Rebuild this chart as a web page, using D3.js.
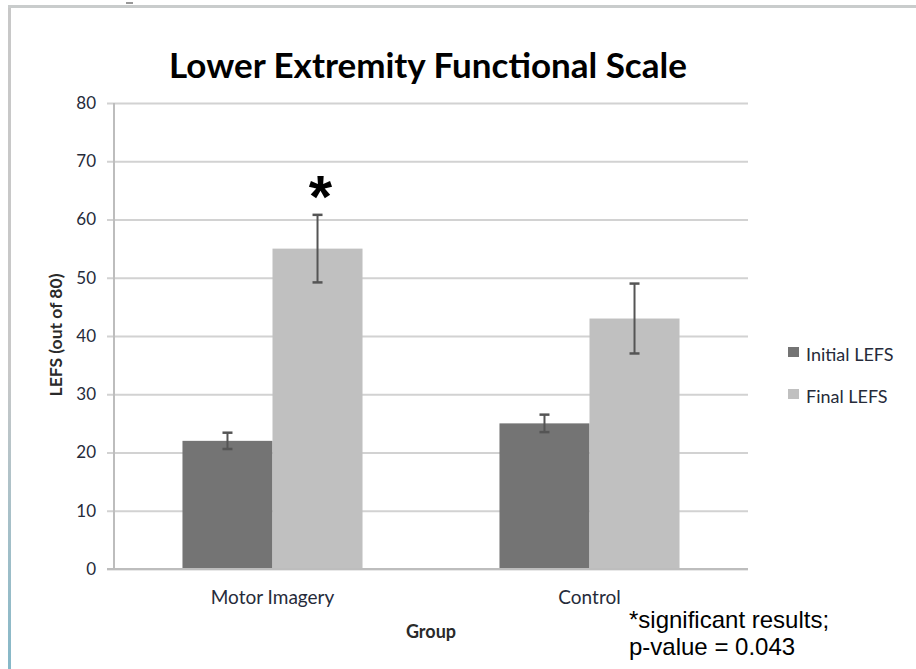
<!DOCTYPE html>
<html>
<head>
<meta charset="utf-8">
<script src="https://cdn.jsdelivr.net/npm/d3@7"></script>
<style>
  html, body { margin: 0; padding: 0; background: #fff; }
  svg { display: block; }
</style>
</head>
<body>
<svg id="chart" width="916" height="669"></svg>
<script>
// LEFS scores by group: mean and error (±) for each assessment
const groups = ["Motor Imagery", "Control"];
const seriesNames = ["Initial LEFS", "Final LEFS"];
const initialMeans = [22, 25];
const finalMeans = [55, 43];
const initialErrors = [1.4, 1.5];
const finalErrors = [5.8, 6];
const yTicks = [0, 10, 20, 30, 40, 50, 60, 70, 80];
const significantGroups = ["Motor Imagery"];

const colors = { "Initial LEFS": "#747474", "Final LEFS": "#c0c0c0" };
const labelFont = "Lato, 'Open Sans', sans-serif";
const labelColor = "#262b3a";

const svg = d3.select("#chart");
const W = 916, H = 669;

const rows = [];
groups.forEach((g, i) => {
  rows.push({ group: g, series: "Initial LEFS", value: initialMeans[i], err: initialErrors[i] });
  rows.push({ group: g, series: "Final LEFS", value: finalMeans[i], err: finalErrors[i] });
});

// Slide frame around the chart
const defs = svg.append("defs");
const grad = defs.append("linearGradient").attr("id", "frameGrad")
  .attr("x1", 0).attr("y1", 0).attr("x2", 0).attr("y2", 1);
grad.append("stop").attr("offset", "0%").attr("stop-color", "#c8c8c8");
grad.append("stop").attr("offset", "55%").attr("stop-color", "#c8c8c8");
grad.append("stop").attr("offset", "100%").attr("stop-color", "#86b8c8");
svg.append("rect").attr("x", 8).attr("y", 6).attr("width", 3).attr("height", H - 6)
  .attr("fill", "url(#frameGrad)");
svg.append("rect").attr("x", 8).attr("y", 5).attr("width", W - 8).attr("height", 3)
  .attr("fill", "#c9cccc");
svg.append("rect").attr("x", 126).attr("y", 2).attr("width", 7).attr("height", 2)
  .attr("fill", "#999");

const margin = { left: 114, right: 168, top: 103, bottom: 100 };
const plotW = W - margin.left - margin.right;
const plotH = H - margin.top - margin.bottom;

const g = svg.append("g").attr("transform", `translate(${margin.left},${margin.top})`);

const y = d3.scaleLinear().domain([0, 80]).range([plotH, 0]);
const x0 = d3.scaleBand().domain(groups).range([0, plotW])
  .paddingInner(0.432).paddingOuter(0.216);
const x1 = d3.scaleBand().domain(seriesNames).range([0, x0.bandwidth()]);

// Horizontal gridlines with short ticks left of the axis
const yAxis = d3.axisLeft(y).tickValues(yTicks).tickSize(-plotW).tickPadding(18).tickSizeOuter(0);
const ya = g.append("g").call(yAxis);
ya.select(".domain").remove();
ya.selectAll(".tick line").attr("stroke", "#d2d2d2").attr("stroke-width", 2.2).attr("x1", -7);
ya.selectAll(".tick text")
  .attr("fill", labelColor)
  .style("font-family", labelFont)
  .style("font-size", "17px");

// Bars
const gg = g.selectAll(".grp").data(groups).join("g")
  .attr("class", "grp")
  .attr("transform", d => `translate(${x0(d)},0)`);

gg.selectAll("rect").data(d => rows.filter(r => r.group === d)).join("rect")
  .attr("x", d => x1(d.series))
  .attr("y", d => y(d.value))
  .attr("width", x1.bandwidth())
  .attr("height", d => y(0) - y(d.value))
  .attr("fill", d => colors[d.series]);

// Error bars
const eb = gg.selectAll(".err").data(d => rows.filter(r => r.group === d)).join("g").attr("class", "err");
const cap = 5;
eb.append("line")
  .attr("x1", d => x1(d.series) + x1.bandwidth() / 2)
  .attr("x2", d => x1(d.series) + x1.bandwidth() / 2)
  .attr("y1", d => y(d.value + d.err))
  .attr("y2", d => y(d.value - d.err))
  .attr("stroke", "#555").attr("stroke-width", 2);
[1, -1].forEach(s => {
  eb.append("line")
    .attr("x1", d => x1(d.series) + x1.bandwidth() / 2 - cap)
    .attr("x2", d => x1(d.series) + x1.bandwidth() / 2 + cap)
    .attr("y1", d => y(d.value + s * d.err))
    .attr("y2", d => y(d.value + s * d.err))
    .attr("stroke", "#555").attr("stroke-width", 2.5);
});

// Significance marker above the final-score error bar
const sigRows = rows.filter(r => significantGroups.includes(r.group) && r.series === "Final LEFS");
g.selectAll(".sig").data(sigRows).join("text")
  .attr("class", "sig")
  .attr("x", d => x0(d.group) + x1(d.series) + x1.bandwidth() / 2 + 3)
  .attr("y", d => y(d.value + d.err) + 2)
  .attr("text-anchor", "middle")
  .style("font-family", "'Liberation Sans', Arial, sans-serif")
  .style("font-weight", "bold")
  .style("font-size", "60px")
  .attr("fill", "#000")
  .text("*");

// Left axis line and baseline
g.append("line").attr("x1", 0).attr("x2", 0).attr("y1", 0).attr("y2", plotH)
  .attr("stroke", "#bdbdbd").attr("stroke-width", 2);
g.append("line").attr("x1", -7).attr("x2", plotW).attr("y1", plotH).attr("y2", plotH)
  .attr("stroke", "#bdbdbd").attr("stroke-width", 2);

// Category labels
const xa = g.append("g").attr("transform", `translate(0,${plotH})`)
  .call(d3.axisBottom(x0).tickSize(0).tickPadding(22));
xa.select(".domain").remove();
xa.selectAll(".tick text")
  .attr("fill", labelColor)
  .style("font-family", labelFont)
  .style("font-size", "19px");

// Axis titles
svg.append("text")
  .attr("x", margin.left + plotW / 2).attr("y", 638)
  .attr("text-anchor", "middle")
  .style("font-family", labelFont)
  .style("font-weight", "bold").style("font-size", "18px")
  .attr("fill", "#2a2a2a")
  .text("Group");

svg.append("text")
  .attr("transform", `translate(62,${margin.top + plotH / 2 - 1}) rotate(-90)`)
  .attr("text-anchor", "middle")
  .style("font-family", labelFont)
  .style("font-weight", "bold").style("font-size", "17.5px")
  .attr("fill", "#2a2a2a")
  .text("LEFS (out of 80)");

// Title
svg.append("text")
  .attr("x", 428).attr("y", 78)
  .attr("text-anchor", "middle")
  .style("font-family", labelFont)
  .style("font-weight", "bold").style("font-size", "35px")
  .attr("fill", "#000")
  .text("Lower Extremity Functional Scale");

// Legend
const legend = svg.append("g").attr("transform", "translate(788,347)");
const li = legend.selectAll("g").data(seriesNames).join("g")
  .attr("transform", (d, i) => `translate(0,${i * 42})`);
li.append("rect").attr("width", 11).attr("height", 10).attr("fill", d => colors[d]);
li.append("text").attr("x", 18).attr("y", 14)
  .style("font-family", labelFont)
  .style("font-size", "18px")
  .attr("fill", labelColor)
  .text(d => d);

// Significance note
const note = svg.append("text")
  .attr("x", 629).attr("y", 628)
  .style("font-family", "'Liberation Sans', Arial, sans-serif")
  .style("font-size", "24px")
  .attr("fill", "#000");
note.append("tspan").attr("x", 629).attr("dy", 0).text("*significant results;");
note.append("tspan").attr("x", 629).attr("dy", 27).text("p-value = 0.043");
</script>
</body>
</html>
